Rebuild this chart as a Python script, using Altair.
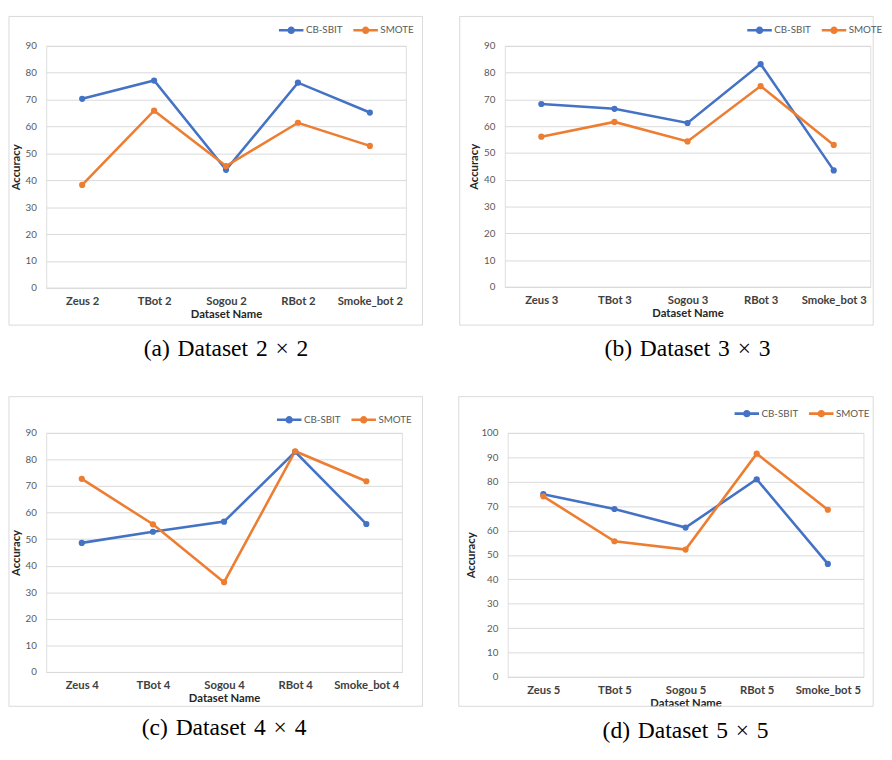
import altair as alt
import pandas as pd

series_names = ["CB-SBIT", "SMOTE"]
colors = ["#4472C4", "#ED7D31"]

cats_2 = ["Zeus 2", "TBot 2", "Sogou 2", "RBot 2", "Smoke_bot 2"]
cbsbit_2 = [70.3, 77.1, 43.9, 76.3, 65.2]
smote_2 = [38.3, 65.9, 45.3, 61.4, 52.8]

cats_3 = ["Zeus 3", "TBot 3", "Sogou 3", "RBot 3", "Smoke_bot 3"]
cbsbit_3 = [68.3, 66.5, 61.2, 83.2, 43.5]
smote_3 = [56.1, 61.6, 54.3, 75.0, 53.0]

cats_4 = ["Zeus 4", "TBot 4", "Sogou 4", "RBot 4", "Smoke_bot 4"]
cbsbit_4 = [48.6, 52.8, 56.6, 82.9, 55.7]
smote_4 = [72.7, 55.6, 33.8, 83.1, 71.8]

cats_5 = ["Zeus 5", "TBot 5", "Sogou 5", "RBot 5", "Smoke_bot 5"]
cbsbit_5 = [74.9, 68.8, 61.2, 81.0, 46.3]
smote_5 = [74.0, 55.6, 52.2, 91.5, 68.5]

SP = "\u2004"  # three-per-em space, close to LaTeX inter-word spacing
captions = [SP.join(["(a)", "Dataset", "2", "\u00d7", "2"]),
            SP.join(["(b)", "Dataset", "3", "\u00d7", "3"]),
            SP.join(["(c)", "Dataset", "4", "\u00d7", "4"]),
            SP.join(["(d)", "Dataset", "5", "\u00d7", "5"])]

SANS = "Lato"
SERIF = "Liberation Serif"
GRID = "#d9d9d9"

# legend symbol: line with a filled dot (concentric rings)
LEG_SYM = ("M-1,0H1M-0.2,0A0.2,0.2,0,1,1,0.2,0A0.2,0.2,0,1,1,-0.2,0"
           "M-0.08,0A0.08,0.08,0,1,1,0.08,0A0.08,0.08,0,1,1,-0.08,0")


def panel(cats, cb, sm, ymax, w, h, caption, box, leg, cap_offset):
    rows = []
    for c, v in zip(cats, cb):
        rows.append({"Dataset": c, "Series": series_names[0], "Accuracy": v})
    for c, v in zip(cats, sm):
        rows.append({"Dataset": c, "Series": series_names[1], "Accuracy": v})
    df = pd.DataFrame(rows)

    l, t, r, b = box
    frame = alt.Chart(alt.Data(values=[{}])).mark_rect(
        filled=False, stroke=GRID, strokeWidth=1
    ).encode(
        x=alt.value(l), x2=alt.value(w + r), y=alt.value(t), y2=alt.value(h + b)
    )

    lines = alt.Chart(df).mark_line(
        strokeWidth=2.6,
        point=alt.OverlayMarkDef(filled=True, size=40, opacity=1),
    ).encode(
        x=alt.X("Dataset:N", sort=cats,
                scale=alt.Scale(type="point", padding=0.5),
                axis=alt.Axis(title="Dataset Name", labelFont=SANS, labelFontSize=11.5,
                              labelFontWeight="bold", labelColor="#404040",
                              labelPadding=8, labelAngle=0, ticks=False,
                              domainColor=GRID, domainWidth=1,
                              titleFont=SANS, titleFontSize=11.5, titleFontWeight="bold",
                              titleColor="#262626", titlePadding=2)),
        y=alt.Y("Accuracy:Q",
                scale=alt.Scale(domain=[0, ymax], nice=False),
                axis=alt.Axis(title="Accuracy", values=list(range(0, ymax + 1, 10)),
                              labelFont=SANS, labelFontSize=10, labelColor="#595959",
                              labelPadding=10, ticks=False, domain=False,
                              gridColor=GRID, gridWidth=1,
                              titleFont=SANS, titleFontSize=11.5, titleFontWeight="bold",
                              titleColor="#262626", titlePadding=4)),
        color=alt.Color("Series:N",
                        scale=alt.Scale(domain=series_names, range=colors),
                        legend=alt.Legend(title=None, orient="none", direction="horizontal",
                                          legendX=leg[0], legendY=leg[1],
                                          symbolType=LEG_SYM, symbolSize=625,
                                          symbolStrokeWidth=2.6, symbolOpacity=1,
                                          labelFont=SANS, labelFontSize=10,
                                          labelColor="#595959", labelOffset=1,
                                          columnPadding=5)),
    )

    return alt.layer(frame, lines).properties(
        width=w, height=h,
        title=alt.TitleParams(caption, orient="bottom", font=SERIF, fontSize=24,
                              fontWeight="normal", color="#000000", offset=cap_offset),
    )


pa = panel(cats_2, cbsbit_2, smote_2, 90, 367, 247, captions[0],
           (-38, -30, 17, 38), (236, -30), 12)
pb = panel(cats_3, cbsbit_3, smote_3, 90, 373, 246, captions[1],
           (-46, -30, 3, 39), (246, -30), 12)
pc = panel(cats_4, cbsbit_4, smote_4, 90, 363, 244, captions[2],
           (-38, -37, 21, 35), (234, -27.5), 10)
pd_ = panel(cats_5, cbsbit_5, smote_5, 100, 363, 249, captions[3],
            (-50, -37, 10, 30), (230, -33.8), 10)

row1 = alt.hconcat(pa, pb, spacing=36).resolve_scale(color="independent")
row2 = alt.hconcat(pc, pd_, spacing=35).resolve_scale(color="independent")

chart = alt.vconcat(row1, row2, spacing=35).resolve_scale(
    color="independent"
).properties(padding=0).configure_view(stroke=None).configure(background="white")

chart.save("out.html", embed_options={"renderer": "svg", "actions": False})
